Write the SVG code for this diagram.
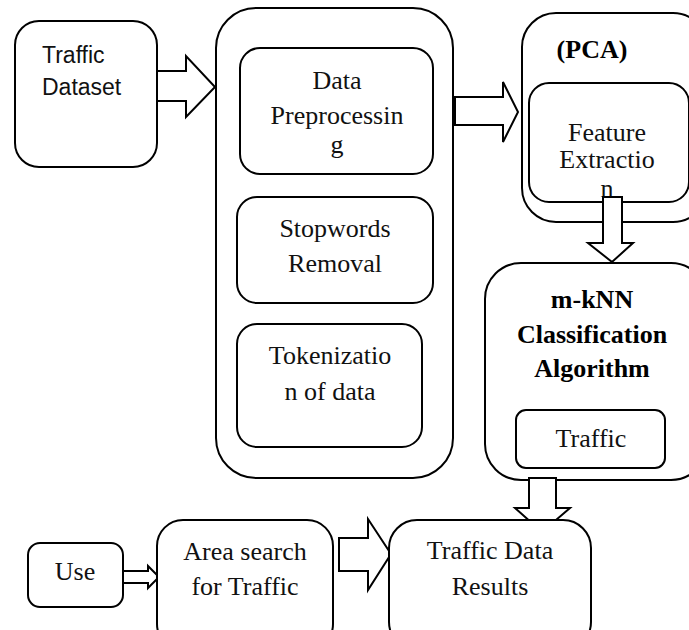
<svg xmlns="http://www.w3.org/2000/svg" width="689" height="630" viewBox="0 0 689 630">
<style>
.b{fill:#fff;stroke:#000;stroke-width:2}
.a{fill:#fff;stroke:#000;stroke-width:2;stroke-linejoin:miter}
.t{font-family:'Times New Roman','Liberation Serif','DejaVu Serif',serif;font-size:26px;fill:#111;text-anchor:middle}
.tb{font-family:'Times New Roman','Liberation Serif','DejaVu Serif',serif;font-size:26px;font-weight:bold;fill:#000;text-anchor:middle}
.s{font-family:'Liberation Sans',Arial,sans-serif;font-size:23px;fill:#111}
</style>
<defs>
<clipPath id="clipFE"><rect x="529" y="83" width="160" height="114"/></clipPath>
</defs>
<rect width="689" height="630" fill="#fff"/>
<g id="traffic-dataset">
<rect class="b" x="15" y="21" width="142" height="146" rx="24"/>
<text class="s" x="42" y="63">Traffic</text>
<text class="s" x="42" y="95">Dataset</text>
</g>
<g id="preprocessing-group">
<rect class="b" x="216" y="8" width="237" height="470" rx="40"/>
</g>
<g id="data-preprocessing">
<rect class="b" x="240" y="48" width="193" height="126" rx="20"/>
<text class="t" x="337" y="89">Data</text>
<text class="t" x="337" y="124">Preprocessin</text>
<text class="t" x="337" y="153">g</text>
</g>
<g id="stopwords">
<rect class="b" x="237" y="197" width="196" height="106" rx="20"/>
<text class="t" x="335" y="237">Stopwords</text>
<text class="t" x="335" y="272">Removal</text>
</g>
<g id="tokenization">
<rect class="b" x="237" y="324" width="185" height="123" rx="20"/>
<text class="t" x="330" y="364">Tokenizatio</text>
<text class="t" x="330" y="400">n of data</text>
</g>
<g id="pca">
<rect class="b" x="522" y="13" width="185" height="209" rx="34"/>
<text class="tb" x="592" y="58">(PCA)</text>
</g>
<g id="feature-extraction">
<rect class="b" x="529" y="83" width="160" height="119" rx="20"/>
<text class="t" x="607" y="141">Feature</text>
<text class="t" x="607" y="168">Extractio</text>
<text class="t" x="607" y="197" clip-path="url(#clipFE)">n</text>
</g>
<g id="mknn">
<rect class="b" x="485" y="263" width="222" height="217" rx="36"/>
<text class="tb" x="592" y="308">m-kNN</text>
<text class="tb" x="592" y="343">Classification</text>
<text class="tb" x="592" y="377">Algorithm</text>
</g>
<g id="traffic-inner">
<rect class="b" x="516" y="410" width="149" height="58" rx="10"/>
<text class="t" x="591" y="447">Traffic</text>
</g>
<g id="connectors">
<polygon class="a" points="157,71 186,71 186,56 215,87 186,117 186,101 157,101"/>
<polygon class="a" points="455,97 503,97 503,82 518,112 503,142 503,125 455,125"/>
<polygon class="a" points="603,197 622,197 622,243 633,243 612,262 588,243 603,243"/>
<polygon class="a" points="529,478 556,478 556,508 570,508 542,532 515,508 529,508"/>
<polygon class="a" points="339,538 368,538 368,519 391,554 368,590 368,571 339,571"/>
<polygon class="a" points="123,571 148,571 148,566 159,577 148,588 148,583 123,583"/>
</g>
<g id="use">
<rect class="b" x="28" y="543" width="95" height="64" rx="12"/>
<text class="t" x="75" y="580">Use</text>
</g>
<g id="area-search">
<rect class="b" x="157" y="520" width="176" height="130" rx="26"/>
<text class="t" x="245" y="560">Area search</text>
<text class="t" x="245" y="595">for Traffic</text>
</g>
<g id="results">
<rect class="b" x="389" y="520" width="202" height="130" rx="28"/>
<text class="t" x="490" y="559">Traffic Data</text>
<text class="t" x="490" y="595">Results</text>
</g>
</svg>
